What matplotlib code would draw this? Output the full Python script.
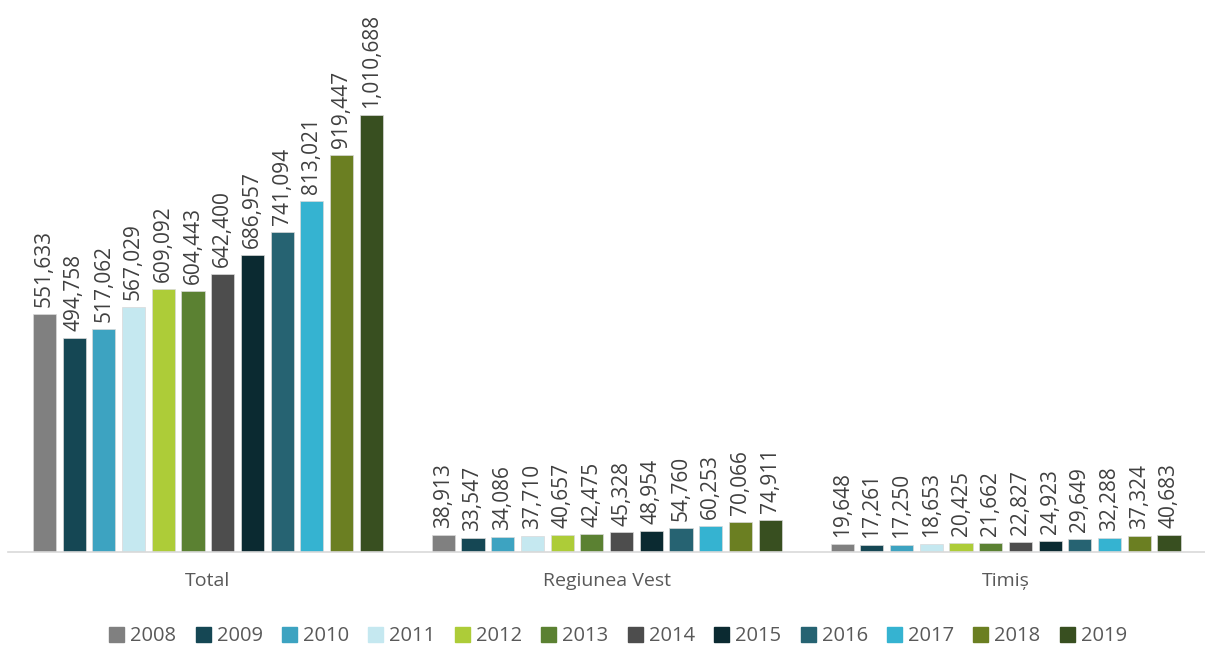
import numpy as np
import matplotlib.pyplot as plt
from matplotlib.patches import Patch

plt.rcParams['font.family'] = ['Open Sans', 'DejaVu Sans']

categories = ['Total', 'Regiunea Vest', 'Timiș']
years = ['2008', '2009', '2010', '2011', '2012', '2013',
         '2014', '2015', '2016', '2017', '2018', '2019']
total = [551633, 494758, 517062, 567029, 609092, 604443,
         642400, 686957, 741094, 813021, 919447, 1010688]
vest = [38913, 33547, 34086, 37710, 40657, 42475,
        45328, 48954, 54760, 60253, 70066, 74911]
timis = [19648, 17261, 17250, 18653, 20425, 21662,
         22827, 24923, 29649, 32288, 37324, 40683]
colors = ['#808080', '#154754', '#3DA3C1', '#C5E8F0', '#ADCC38', '#5B8132',
          '#4D4D4D', '#0B2A31', '#266372', '#35B3D1', '#6B7F22', '#384F20']

values = np.array([total, vest, timis])  # rows: categories, cols: years

fig = plt.figure(figsize=(12.05, 6.48), dpi=100)
ax = fig.add_axes([0.007, 0.148, 0.993, 0.852])

slot = 0.0745
width = 0.058
x = np.arange(len(categories))
for i, yr in enumerate(years):
    pos = x + (i - 5.5) * slot
    ax.bar(pos, values[:, i], width=width, color=colors[i],
           edgecolor='#d9d9d9', linewidth=0.5, label=yr)
    for p, v in zip(pos, values[:, i]):
        ax.annotate(f'{v:,}', (p, v), xytext=(0, 5), textcoords='offset points',
                    rotation=90, ha='center', va='bottom',
                    fontsize=15, color='#404040')

ax.set_xlim(-0.5, 2.5)
ax.set_ylim(0, 1277000)
ax.set_xticks(x)
ax.set_xticklabels(categories, fontsize=14, color='#595959')
ax.tick_params(axis='x', length=0, pad=14)
ax.set_yticks([])
for s in ['top', 'right', 'left']:
    ax.spines[s].set_visible(False)
ax.spines['bottom'].set_color('#d9d9d9')
ax.spines['bottom'].set_linewidth(1.2)

handles = [Patch(color=c, label=y) for c, y in zip(colors, years)]
fig.legend(handles=handles, loc='center', bbox_to_anchor=(0.513, 0.018),
           ncol=12, frameon=False, fontsize=14.5, handlelength=0.75,
           handleheight=0.75, handletextpad=0.3, columnspacing=0.95,
           labelcolor='#595959')

fig.savefig('out.png', dpi=100)
